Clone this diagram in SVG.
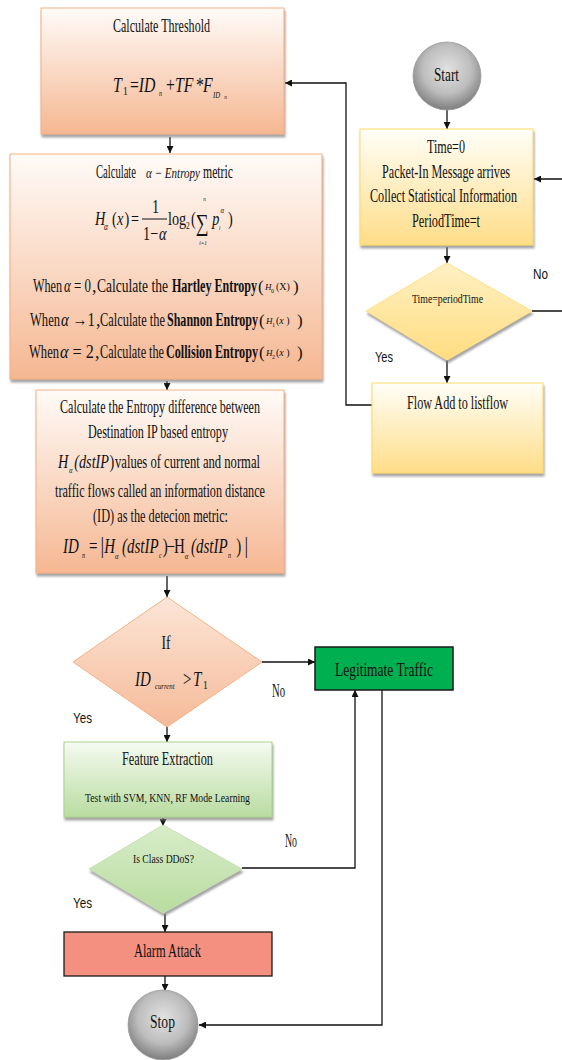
<svg xmlns="http://www.w3.org/2000/svg" width="562" height="1060" viewBox="0 0 562 1060">
<defs>
<style>
.t{font-family:"Liberation Serif","Times New Roman",serif;fill:#111}
.sm{font-size:13px}
.s{font-family:"Liberation Sans",Arial,sans-serif;font-size:14px;fill:#111}
.i{font-style:italic}
.b{font-weight:bold}
.mid{text-anchor:middle}
.ln{fill:none;stroke:#111;stroke-width:1.3}
.ob{fill:url(#og);stroke:#F4B183;stroke-width:1}
.yb{fill:url(#yg);stroke:#FFD966;stroke-width:1}
.gb{fill:url(#gg);stroke:#A9D18E;stroke-width:1}
</style>
<linearGradient id="og" x1="0" y1="0" x2="0" y2="1"><stop offset="0" stop-color="#FFFBF8"/><stop offset="1" stop-color="#F5B792"/></linearGradient>
<linearGradient id="yg" x1="0" y1="0" x2="0" y2="1"><stop offset="0" stop-color="#FFFEF8"/><stop offset="1" stop-color="#FFDD88"/></linearGradient>
<linearGradient id="gg" x1="0" y1="0" x2="0" y2="1"><stop offset="0" stop-color="#F5FAF1"/><stop offset="1" stop-color="#B9DCA0"/></linearGradient>
<linearGradient id="od" x1="0" y1="0" x2="0" y2="1"><stop offset="0" stop-color="#FCE6D8"/><stop offset="1" stop-color="#F5BA98"/></linearGradient>
<linearGradient id="yd" x1="0" y1="0" x2="0" y2="1"><stop offset="0" stop-color="#FFF0C4"/><stop offset="1" stop-color="#FFDD80"/></linearGradient>
<linearGradient id="gd" x1="0" y1="0" x2="0" y2="1"><stop offset="0" stop-color="#D8EDCA"/><stop offset="1" stop-color="#B8DC9E"/></linearGradient>
<radialGradient id="cg" cx="0.5" cy="0.4" r="0.6"><stop offset="0" stop-color="#E2E2E2"/><stop offset="0.6" stop-color="#BDBDBD"/><stop offset="1" stop-color="#7E7E7E"/></radialGradient>
<filter id="sh" x="-10%" y="-10%" width="125%" height="130%"><feDropShadow dx="1" dy="3" stdDeviation="1.3" flood-color="#7f7f7f" flood-opacity="0.7"/></filter>
<marker id="ar" viewBox="0 0 10 10" refX="10" refY="5" markerWidth="7" markerHeight="7" markerUnits="userSpaceOnUse" orient="auto"><path d="M0,0 L10,5 L0,10 z" fill="#111"/></marker>
</defs>

<g id="connectors">
<line class="ln" x1="447" y1="110" x2="447" y2="129" marker-end="url(#ar)"/>
<line class="ln" x1="447" y1="247" x2="447" y2="263" marker-end="url(#ar)"/>
<path class="ln" d="M532,311 H570 V179 H534" marker-end="url(#ar)"/>
<line class="ln" x1="447" y1="360" x2="447" y2="383" marker-end="url(#ar)"/>
<path class="ln" d="M372,405 H346 V83 H285" marker-end="url(#ar)"/>
<line class="ln" x1="170" y1="137" x2="170" y2="153" marker-end="url(#ar)"/>
<line class="ln" x1="167" y1="381" x2="167" y2="390" marker-end="url(#ar)"/>
<line class="ln" x1="167" y1="576" x2="167" y2="597" marker-end="url(#ar)"/>
<line class="ln" x1="262" y1="662" x2="315" y2="662" marker-end="url(#ar)"/>
<line class="ln" x1="167" y1="727" x2="167" y2="742" marker-end="url(#ar)"/>
<line class="ln" x1="163" y1="818" x2="163" y2="826" marker-end="url(#ar)"/>
<path class="ln" d="M242,868 H355 V690" marker-end="url(#ar)"/>
<path class="ln" d="M382,690 V1025 H199" marker-end="url(#ar)"/>
<line class="ln" x1="165" y1="914" x2="165" y2="932" marker-end="url(#ar)"/>
<line class="ln" x1="165" y1="976" x2="165" y2="991" marker-end="url(#ar)"/>
</g>

<g font-size="18">
<g id="threshold">
<rect class="ob" x="41" y="8" width="243" height="126" filter="url(#sh)"/>
<text class="t mid" x="161.5" y="32" textLength="97" lengthAdjust="spacingAndGlyphs">Calculate Threshold</text>
<g transform="scale(0.75,1)">
<text class="t i" y="92" font-size="21"><tspan x="150.7">T</tspan><tspan x="164" y="95" font-size="13" font-style="normal">1</tspan><tspan x="173.3" y="92" font-style="normal">=</tspan><tspan x="185">ID</tspan><tspan x="212" y="96" font-size="8">n</tspan><tspan x="221.3" y="92" font-style="normal">+</tspan><tspan x="233.3">TF</tspan><tspan x="261.3" font-style="normal">*</tspan><tspan x="270.7">F</tspan><tspan x="284" y="98" font-size="9">ID</tspan><tspan x="299" y="99" font-size="7">n</tspan></text>
</g>
</g>

<g id="entropy">
<rect class="ob" x="10" y="154" width="312" height="225" filter="url(#sh)"/>
<text class="t" x="96" y="178" textLength="40" lengthAdjust="spacingAndGlyphs">Calculate</text>
<text class="t i" x="146" y="178" font-size="15" textLength="54" lengthAdjust="spacingAndGlyphs">α − Entropy</text>
<text class="t" x="203" y="178" textLength="30" lengthAdjust="spacingAndGlyphs">metric</text>
<g transform="scale(0.75,1)">
<text class="t i" font-size="19"><tspan x="126.7" y="225">H</tspan><tspan x="138.7" y="230" font-size="10">α</tspan><tspan x="149.3" y="225" font-style="normal">(</tspan><tspan x="156">x</tspan><tspan x="166" font-style="normal">)</tspan><tspan x="174.7" font-style="normal">=</tspan><tspan x="202.7" y="213" font-style="normal">1</tspan><tspan x="190.7" y="240" font-style="normal">1−</tspan><tspan x="212" y="240">α</tspan><tspan x="224" y="225" font-style="normal">log</tspan><tspan x="248" y="229" font-size="10" font-style="normal">2</tspan><tspan x="254.7" y="225" font-style="normal">(</tspan><tspan x="261" y="231" font-size="24" font-style="normal">∑</tspan><tspan x="271" y="201" font-size="7">n</tspan><tspan x="265.7" y="245" font-size="7">i=1</tspan><tspan x="283" y="225">p</tspan><tspan x="292" y="230" font-size="7">i</tspan><tspan x="294" y="213" font-size="9">α</tspan><tspan x="304" y="225" font-style="normal">)</tspan></text>
</g>
<line x1="142" y1="219" x2="167" y2="219" stroke="#111" stroke-width="1"/>
<text class="t" x="33" y="292" textLength="29" lengthAdjust="spacingAndGlyphs">When</text>
<text class="t" x="64" y="292" font-size="19" textLength="27" lengthAdjust="spacingAndGlyphs"><tspan class="i">α</tspan> = 0</text>
<text class="t" x="92" y="292">,</text>
<text class="t" x="97" y="292" textLength="71" lengthAdjust="spacingAndGlyphs">Calculate the</text>
<text class="t b" x="172" y="292" textLength="85" lengthAdjust="spacingAndGlyphs">Hartley Entropy</text>
<text class="t" x="258" y="292" font-size="17">(</text>
<text class="t i" x="265" y="290" font-size="9">H</text>
<text class="t" x="271" y="293" font-size="6">0</text>
<text class="t" x="276" y="290" font-size="10">(X)</text>
<text class="t" x="293" y="292" font-size="17">)</text>

<text class="t" x="30" y="326" textLength="30" lengthAdjust="spacingAndGlyphs">When</text>
<text class="t" x="61" y="326" font-size="19" textLength="34" lengthAdjust="spacingAndGlyphs"><tspan class="i">α</tspan> →1</text>
<text class="t" x="96" y="326">,</text>
<text class="t" x="100" y="326" textLength="65" lengthAdjust="spacingAndGlyphs">Calculate the</text>
<text class="t b" x="167" y="326" textLength="91" lengthAdjust="spacingAndGlyphs">Shannon Entropy</text>
<text class="t" x="259" y="326" font-size="17">(</text>
<text class="t i" x="266" y="324" font-size="9">H</text>
<text class="t" x="272" y="327" font-size="6">1</text>
<text class="t" x="276" y="324" font-size="10">(<tspan class="i">x</tspan> )</text>
<text class="t" x="297" y="326" font-size="17">)</text>

<text class="t" x="29" y="358" textLength="30" lengthAdjust="spacingAndGlyphs">When</text>
<text class="t" x="60" y="358" font-size="19" textLength="34" lengthAdjust="spacingAndGlyphs"><tspan class="i">α</tspan> = 2</text>
<text class="t" x="95" y="358">,</text>
<text class="t" x="100" y="358" textLength="64" lengthAdjust="spacingAndGlyphs">Calculate the</text>
<text class="t b" x="166" y="358" textLength="92" lengthAdjust="spacingAndGlyphs">Collision Entropy</text>
<text class="t" x="259" y="358" font-size="17">(</text>
<text class="t i" x="266" y="356" font-size="9">H</text>
<text class="t" x="272" y="359" font-size="6">2</text>
<text class="t" x="276" y="356" font-size="10">(<tspan class="i">x</tspan> )</text>
<text class="t" x="297" y="358" font-size="17">)</text>
</g>

<g id="difference">
<rect class="ob" x="36" y="390" width="248" height="183" filter="url(#sh)"/>
<text class="t" x="60" y="413" textLength="200" lengthAdjust="spacingAndGlyphs">Calculate the Entropy difference between</text>
<text class="t" x="88" y="438" textLength="140" lengthAdjust="spacingAndGlyphs">Destination IP based entropy</text>
<g transform="scale(0.75,1)">
<text class="t i" font-size="19"><tspan x="77.3" y="468">H</tspan><tspan x="92" y="473" font-size="9">α</tspan><tspan x="99" y="468">(dstIP</tspan><tspan x="146" y="468" font-style="normal">)</tspan></text>
</g>
<text class="t" x="115" y="468" textLength="145" lengthAdjust="spacingAndGlyphs">values of current and normal</text>
<text class="t" x="55" y="497" textLength="210" lengthAdjust="spacingAndGlyphs">traffic flows called an information distance</text>
<text class="t" x="93" y="522" textLength="135" lengthAdjust="spacingAndGlyphs">(ID) as the detecion metric:</text>
<g transform="scale(0.75,1)">
<text class="t i" font-size="20"><tspan x="84" y="553">ID</tspan><tspan x="109.3" y="558" font-size="8">n</tspan><tspan x="118.7" y="553" font-style="normal">=</tspan><tspan x="134" font-style="normal" font-size="24">|</tspan><tspan x="139">H</tspan><tspan x="153.3" y="559" font-size="9">α</tspan><tspan x="162.7" y="553">(dstIP</tspan><tspan x="212" y="558" font-size="8">c</tspan><tspan x="217" y="553" font-style="normal">)</tspan><tspan x="222" font-style="normal">−</tspan><tspan x="232" font-style="normal">H</tspan><tspan x="246.3" y="559" font-size="9">α</tspan><tspan x="254.7" y="553">(dstIP</tspan><tspan x="304" y="558" font-size="8">n</tspan><tspan x="315" y="553" font-style="normal">)</tspan><tspan x="326" font-style="normal" font-size="24">|</tspan></text>
</g>
</g>

<g id="start">
<circle cx="447" cy="76" r="34" fill="url(#cg)" stroke="#9a9a9a" stroke-width="0.8"/>
<text class="t mid" x="446.5" y="81" textLength="25" lengthAdjust="spacingAndGlyphs">Start</text>
</g>

<g id="collect">
<rect class="yb" x="360" y="129" width="173" height="116" filter="url(#sh)"/>
<text class="t mid" x="446" y="153" textLength="38" lengthAdjust="spacingAndGlyphs">Time=0</text>
<text class="t mid" x="446" y="178" textLength="128" lengthAdjust="spacingAndGlyphs">Packet-In Message arrives</text>
<text class="t mid" x="443.5" y="202" textLength="147" lengthAdjust="spacingAndGlyphs">Collect Statistical Information</text>
<text class="t mid" x="446" y="227" textLength="68" lengthAdjust="spacingAndGlyphs">PeriodTime=t</text>
</g>

<g id="timecheck">
<polygon points="447,263 532,311 447,360 366,311" fill="url(#yd)" stroke="#FFE08A" stroke-width="1" filter="url(#sh)"/>
<text class="t mid sm" x="447.5" y="303" textLength="71" lengthAdjust="spacingAndGlyphs">Time=periodTime</text>
<text class="s" x="533" y="279" textLength="15" lengthAdjust="spacingAndGlyphs">No</text>
<text class="s" x="375" y="362" textLength="18" lengthAdjust="spacingAndGlyphs">Yes</text>
</g>

<g id="flowadd">
<rect class="yb" x="372" y="383" width="171" height="90" filter="url(#sh)"/>
<text class="t mid" x="457.5" y="409" textLength="101" lengthAdjust="spacingAndGlyphs">Flow Add to listflow</text>
</g>

<g id="ifcheck">
<polygon points="167,597 262,662 167,727 73,662" fill="url(#od)" stroke="#F4B183" stroke-width="1"/>
<text class="t mid" x="166" y="649" textLength="9" lengthAdjust="spacingAndGlyphs">If</text>
<g transform="scale(0.75,1)">
<text class="t i" font-size="20"><tspan x="180" y="686">ID</tspan><tspan x="206.7" y="689" font-size="9">current</tspan><tspan x="244" y="686" font-style="normal">&gt;</tspan><tspan x="257.3">T</tspan><tspan x="270.7" y="689" font-size="13" font-style="normal">1</tspan></text>
</g>
<text class="t" x="272" y="697" textLength="13" lengthAdjust="spacingAndGlyphs">No</text>
<text class="s" x="73" y="723" textLength="19" lengthAdjust="spacingAndGlyphs">Yes</text>
</g>

<g id="legitimate">
<rect x="315" y="647" width="138" height="43" fill="#00B050" stroke="#1a1a1a" stroke-width="1.5"/>
<text class="t mid" x="384" y="676" textLength="98" lengthAdjust="spacingAndGlyphs">Legitimate Traffic</text>
</g>

<g id="feature">
<rect class="gb" x="64" y="742" width="208" height="75" filter="url(#sh)"/>
<text class="t mid" x="167.5" y="765" textLength="91" lengthAdjust="spacingAndGlyphs">Feature Extraction</text>
<text class="t mid sm" x="167.5" y="802" textLength="165" lengthAdjust="spacingAndGlyphs">Test with SVM, KNN, RF Mode Learning</text>
</g>

<g id="ddoscheck">
<polygon points="163,825 242,869 163,913 89,869" fill="url(#gd)" stroke="#C5E0B4" stroke-width="1" filter="url(#sh)"/>
<text class="t mid sm" x="163.5" y="863" textLength="61" lengthAdjust="spacingAndGlyphs">Is Class DDoS?</text>
<text class="t" x="285" y="847" textLength="12" lengthAdjust="spacingAndGlyphs">No</text>
<text class="s" x="73" y="908" textLength="19" lengthAdjust="spacingAndGlyphs">Yes</text>
</g>

<g id="alarm">
<rect x="64" y="932" width="208" height="44" fill="#F4907F" stroke="#1a1a1a" stroke-width="1.3"/>
<text class="t mid" x="167.5" y="957" textLength="67" lengthAdjust="spacingAndGlyphs">Alarm Attack</text>
</g>

<g id="stop">
<circle cx="163" cy="1025" r="35" fill="url(#cg)" stroke="#9a9a9a" stroke-width="0.8"/>
<text class="t mid" x="162.5" y="1028" textLength="25" lengthAdjust="spacingAndGlyphs">Stop</text>
</g>
</g>
</svg>
